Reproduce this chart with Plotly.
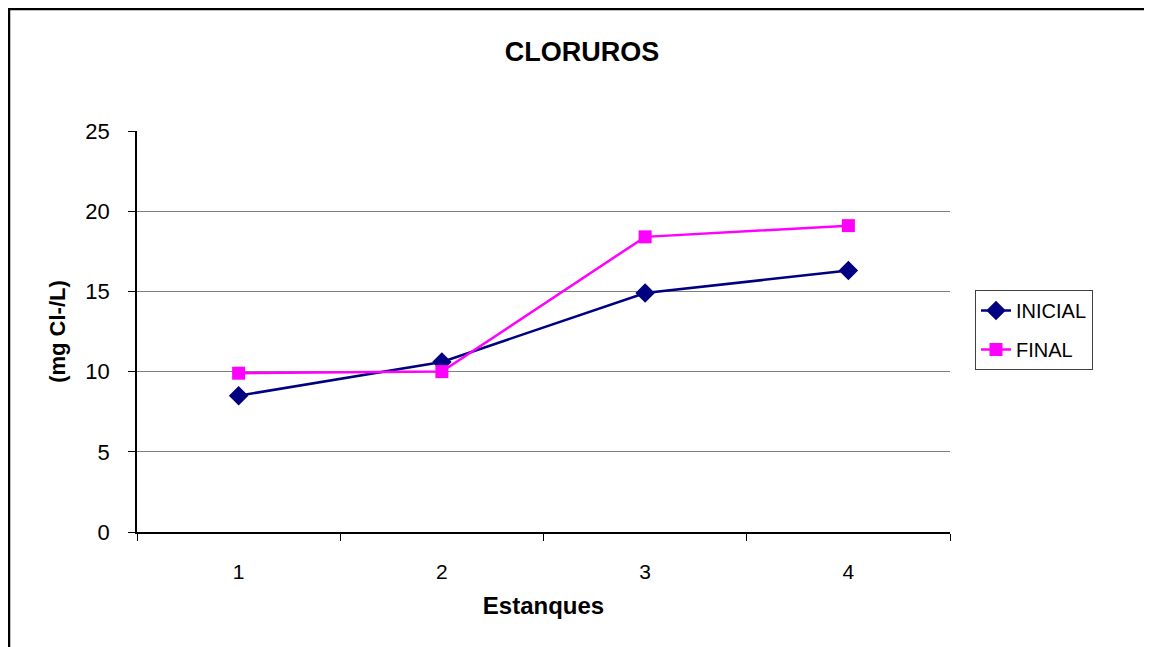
import plotly.graph_objects as go

estanques = [1, 2, 3, 4]
inicial = [8.5, 10.6, 14.9, 16.3]
final = [9.9, 10.0, 18.4, 19.1]

fig = go.Figure()

fig.add_trace(go.Scatter(
    x=estanques, y=inicial, mode='lines+markers', name='INICIAL',
    legendgroup='a',
    line=dict(color='#000080', width=2.5),
    marker=dict(symbol='diamond', size=15, color='#000080')
))
fig.add_trace(go.Scatter(
    x=estanques, y=final, mode='lines+markers', name='FINAL',
    legendgroup='b',
    line=dict(color='#FF00FF', width=2.5),
    marker=dict(symbol='square', size=13, color='#FF00FF')
))

# plot area in page pixels (page has an 8px body margin)
L, R, T, B = 137, 950, 131, 532
W, H = R - L, B - T
OFF = 8


def px(x):
    return (x - L) / W


def py(y):
    return (B - y) / H


# outer chart frame
fig.add_shape(type='rect', xref='paper', yref='paper',
              x0=px(9), x1=px(1250), y0=py(9), y1=py(720),
              line=dict(color='black', width=2.5), layer='below')

fig.update_layout(
    width=1152, height=647,
    margin=dict(l=L - OFF, r=1152 - R + OFF, t=T - OFF, b=647 - B + OFF),
    paper_bgcolor='white', plot_bgcolor='white',
    font=dict(family='Liberation Sans, Arial', color='black', size=22),
    title=dict(text='<b>CLORUROS</b>', xref='container', x=(582 - OFF) / 1152,
               xanchor='center', y=1 - (52 - OFF) / 647, yanchor='middle',
               font=dict(size=27)),
    xaxis=dict(
        range=[0.5, 4.5], tickvals=estanques, ticks='', showgrid=False,
        showline=True, linecolor='black', linewidth=1.5,
        title=dict(text='<b>Estanques</b>', font=dict(size=24), standoff=15),
        tickfont=dict(size=21), ticklabelstandoff=20,
        minor=dict(tickvals=[0.5, 1.5, 2.5, 3.5, 4.5], ticks='outside',
                   ticklen=7, tickcolor='black', showgrid=False),
        zeroline=False,
    ),
    yaxis=dict(
        range=[0, 25], dtick=5, ticks='outside', ticklen=7, tickcolor='black',
        showgrid=True, gridcolor='#808080', gridwidth=1,
        showline=True, linecolor='black', linewidth=1.5,
        title=dict(text='<b>(mg Cl-/L)</b>', font=dict(size=22), standoff=14),
        tickfont=dict(size=22), ticklabelstandoff=14, zeroline=False,
    ),
    legend=dict(
        x=px(975), y=py(330), xanchor='left', yanchor='middle',
        bordercolor='#404040', borderwidth=1, bgcolor='white',
        font=dict(size=20), tracegroupgap=10,
    ),
)

fig.write_html("out.html")
